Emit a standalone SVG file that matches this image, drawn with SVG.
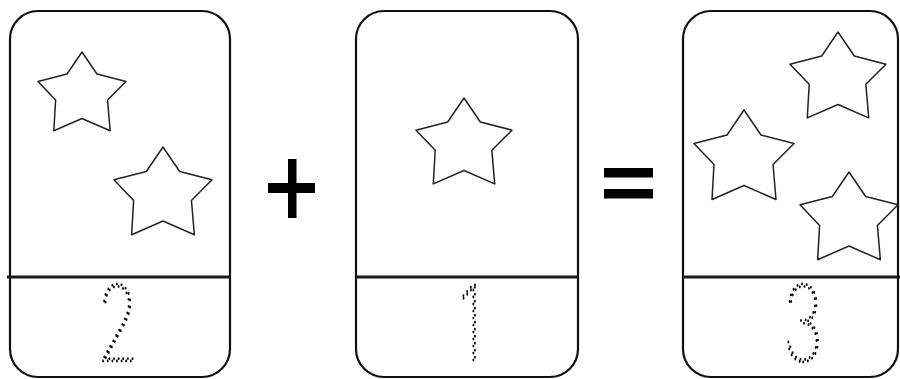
<svg xmlns="http://www.w3.org/2000/svg" xmlns:xlink="http://www.w3.org/1999/xlink" width="900" height="379" viewBox="0 0 900 379">
<style>
.card{fill:#fff;stroke:#111;stroke-width:2.2}
.div{stroke:#1a1a1a;stroke-width:3}
.star{fill:#fff;stroke:#222;stroke-width:1.5;stroke-linejoin:round}
.digit{font-family:Inter,"Liberation Sans",sans-serif;font-weight:100;font-size:104px;fill:none;stroke:#000;stroke-width:2.9;stroke-dasharray:0 7;stroke-linecap:round;text-anchor:middle}
.op{fill:#000}
</style>
<defs>
<polygon id="star" vector-effect="non-scaling-stroke" points="0,-1 0.34,-0.5 1,-0.33 0.58,0.09 0.64,0.79 0,0.51 -0.64,0.79 -0.6,0.09 -1,-0.33 -0.34,-0.5"/>
</defs>
<rect width="900" height="379" fill="#fff"/>
<g id="card-2">
<rect class="card" x="10" y="11" width="220" height="366" rx="28"/>
<line class="div" x1="7" y1="277" x2="231" y2="277"/>
<use href="#star" class="star" transform="translate(82,96) scale(44)"/>
<use href="#star" class="star" transform="translate(163,196) scale(49)"/>
<text class="digit" transform="translate(118,361) scale(0.66,1)">2</text>
</g>
<g id="plus">
<rect class="op" x="268" y="183" width="47" height="10"/>
<rect class="op" x="288" y="159" width="8.5" height="59"/>
</g>
<g id="card-1">
<rect class="card" x="356" y="11" width="222" height="366" rx="28"/>
<line class="div" x1="356" y1="277" x2="578" y2="277"/>
<use href="#star" class="star" transform="translate(464,146) scale(48)"/>
<text class="digit" transform="translate(470,361) scale(0.66,1)">1</text>
</g>
<g id="equals">
<rect class="op" x="604" y="168" width="49" height="9.5"/>
<rect class="op" x="604" y="189" width="49" height="9.5"/>
</g>
<g id="card-3">
<rect class="card" x="683" y="11" width="215" height="366" rx="28"/>
<line class="div" x1="683" y1="277" x2="900" y2="277"/>
<use href="#star" class="star" transform="translate(838,80) scale(48)"/>
<use href="#star" class="star" transform="translate(744,160) scale(50)"/>
<use href="#star" class="star" transform="translate(849,221) scale(49)"/>
<text class="digit" transform="translate(803,361) scale(0.66,1)">3</text>
</g>
<g id="connectors"></g>
</svg>
